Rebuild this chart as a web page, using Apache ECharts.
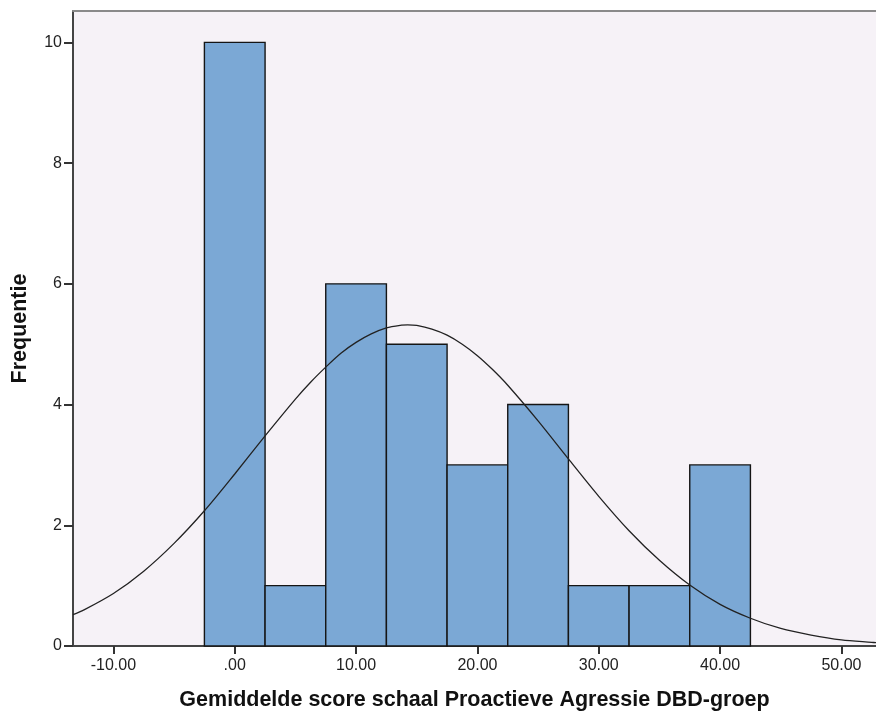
<!DOCTYPE html>
<html>
<head>
<meta charset="utf-8">
<script src="https://cdn.jsdelivr.net/npm/echarts@6/dist/echarts.min.js"></script>
<style>
html,body{margin:0;padding:0;background:#fff;}
#chart{width:876px;height:716px;}
</style>
</head>
<body>
<div id="chart"></div>
<script>
// Histogram bins (bin centres) and frequencies
const binCenters = [0, 5, 10, 15, 20, 25, 30, 35, 40];
const frequencies = [10, 1, 6, 5, 3, 4, 1, 1, 3];
const binWidth = 5;

// Normal curve points
const curveX = [-13.33, -12.5, -10, -7.5, -5, -2.5, 0, 2.5, 5, 6.25, 7.5, 8.75, 10, 11.25, 12.5, 13.75, 14.25, 15, 16.25, 17.5, 18.75, 20, 21.25, 22.5, 25, 27.5, 30, 32.5, 35, 37.5, 40, 42.5, 45, 47.5, 50, 52.5, 52.85];
const curveY = [0.52, 0.59, 0.87, 1.24, 1.70, 2.24, 2.85, 3.48, 4.09, 4.37, 4.62, 4.85, 5.03, 5.17, 5.27, 5.315, 5.32, 5.31, 5.25, 5.15, 5.00, 4.81, 4.58, 4.32, 3.73, 3.10, 2.48, 1.91, 1.42, 1.01, 0.69, 0.46, 0.29, 0.18, 0.10, 0.06, 0.055];

// Tick labels
const xTicks = [-10, 0, 10, 20, 30, 40, 50];
const yTicks = [0, 2, 4, 6, 8, 10];

const xTitle = 'Gemiddelde score schaal Proactieve Agressie DBD-groep';
const yTitle = 'Frequentie';

const chart = echarts.init(document.getElementById('chart'), null, {renderer: 'canvas'});

const fontFam = '"Liberation Sans", Arial, sans-serif';

const option = {
  backgroundColor: '#ffffff',
  animation: false,
  grid: {
    left: 73, right: 0, top: 11, bottom: 68.5,
    show: true, backgroundColor: '#F6F2F7', borderWidth: 0
  },
  xAxis: [{
    type: 'value',
    min: -13.33, max: 52.85,
    name: xTitle,
    nameLocation: 'middle',
    nameGap: 43,
    nameTextStyle: {fontFamily: fontFam, fontWeight: 'bold', fontSize: 21.5, color: '#111'},
    axisLine: {show: true, onZero: false, lineStyle: {color: '#444', width: 2}},
    axisTick: {show: true, length: 8, customValues: xTicks, lineStyle: {color: '#333', width: 2}},
    axisLabel: {
      customValues: xTicks, margin: 12,
      fontFamily: fontFam, fontSize: 16, color: '#222',
      formatter: v => v === 0 ? '.00' : v.toFixed(2)
    },
    splitLine: {show: false}
  }, {
    type: 'value', position: 'top',
    min: -13.33, max: 52.85,
    axisLine: {show: true, onZero: false, lineStyle: {color: '#8a8a8a', width: 2}},
    axisTick: {show: false}, axisLabel: {show: false}, splitLine: {show: false}
  }],
  yAxis: {
    type: 'value',
    min: 0, max: 10.52,
    name: yTitle,
    nameLocation: 'middle',
    nameGap: 42,
    nameTextStyle: {fontFamily: fontFam, fontWeight: 'bold', fontSize: 21.5, color: '#111'},
    axisLine: {show: true, onZero: false, lineStyle: {color: '#444', width: 2}},
    axisTick: {show: true, length: 9, customValues: yTicks, lineStyle: {color: '#333', width: 2}},
    axisLabel: {customValues: yTicks, margin: 11, fontFamily: fontFam, fontSize: 16, color: '#222'},
    splitLine: {show: false}
  },
  series: [{
    type: 'custom',
    xAxisIndex: 0,
    data: binCenters.map((c, i) => [c, frequencies[i]]),
    renderItem: function (params, api) {
      const c = api.value(0), f = api.value(1);
      const p0 = api.coord([c - binWidth / 2, f]);
      const p1 = api.coord([c + binWidth / 2, 0]);
      return {
        type: 'rect',
        shape: {x: p0[0], y: p0[1], width: p1[0] - p0[0], height: p1[1] - p0[1]},
        style: {fill: '#7BA8D5', stroke: '#151515', lineWidth: 1.4}
      };
    },
    z: 2
  }, {
    type: 'line',
    xAxisIndex: 0,
    data: curveX.map((x, i) => [x, curveY[i]]),
    smooth: 0.3,
    showSymbol: false,
    lineStyle: {color: '#222', width: 1.3},
    z: 3
  }]
};
chart.setOption(option);
</script>
</body>
</html>
